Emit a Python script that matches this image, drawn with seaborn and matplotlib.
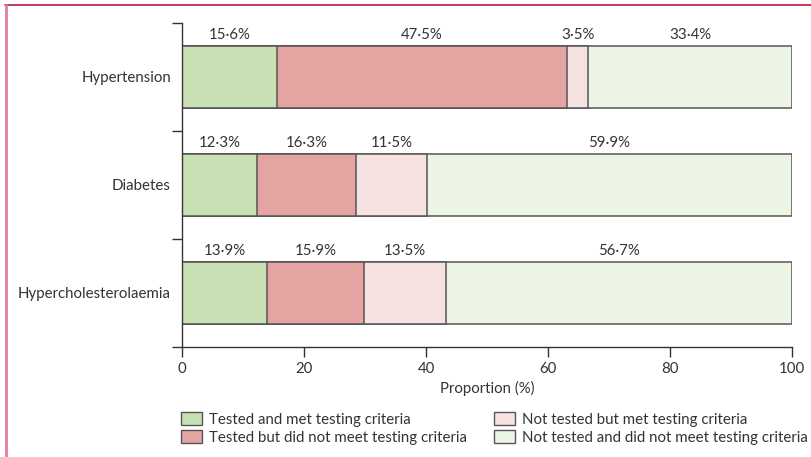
import pandas as pd
import seaborn as sns
import numpy as np
import matplotlib.pyplot as plt
from matplotlib.patches import Patch
from matplotlib.lines import Line2D

# values
conditions = ['Hypertension', 'Diabetes', 'Hypercholesterolaemia']
groups = ['Tested and met testing criteria',
          'Tested but did not meet testing criteria',
          'Not tested but met testing criteria',
          'Not tested and did not meet testing criteria']
tested_met = [15.6, 12.3, 13.9]
tested_not_met = [47.5, 16.3, 15.9]
not_tested_met = [3.5, 11.5, 13.5]
not_tested_not_met = [33.4, 59.9, 56.7]
colors = ['#c9e0b5', '#e3a4a2', '#f6e2e0', '#ecf4e4']

sns.set_style('white')
plt.rcParams['font.family'] = ['Lato', 'DejaVu Sans']
plt.rcParams['font.size'] = 10.8
plt.rcParams['text.color'] = '#333333'

df = pd.DataFrame({'condition': conditions,
                   groups[0]: tested_met,
                   groups[1]: tested_not_met,
                   groups[2]: not_tested_met,
                   groups[3]: not_tested_not_met})
cum = df[groups].cumsum(axis=1)
cum['condition'] = df['condition']

fig = plt.figure(figsize=(8.11, 4.57), dpi=100)
ax = fig.add_axes([0.2244, 0.2407, 0.7522, 0.709])

# stacked bars: draw cumulative totals from the longest down
for g, c in reversed(list(zip(groups, colors))):
    sns.barplot(data=cum, x=g, y='condition', order=conditions, color=c,
                width=0.58, edgecolor='#555555', linewidth=1.1,
                saturation=1, ax=ax)

# percentage labels above each segment
for i, cond in enumerate(conditions):
    left = 0
    for g in groups:
        v = df.loc[i, g]
        txt = f'{v:.1f}'.replace('.', '\u00b7') + '%'
        ax.text(left + v / 2, i - 0.32, txt, ha='center', va='bottom',
                fontsize=10.8, color='#333333')
        left += v

ax.set_xlim(0, 100)
ax.set_ylim(2.5, -0.5)
ax.set_xticks(np.arange(0, 101, 20))
ax.set_yticks(range(len(conditions)))
ax.set_yticklabels(conditions)
ax.set_yticks([-0.5, 0.5, 1.5, 2.5], minor=True)
ax.tick_params(axis='y', which='major', length=0, pad=8, labelcolor='#333333')
ax.tick_params(axis='y', which='minor', length=7, width=1, color='#333333', direction='out', left=True)
ax.tick_params(axis='x', length=7, width=1, color='#333333', direction='out',
               bottom=True, labelcolor='#333333', pad=4)
ax.set_xlabel('Proportion (%)', color='#333333', labelpad=3)
ax.set_ylabel('')
for s in ['top', 'right']:
    ax.spines[s].set_visible(False)
for s in ['left', 'bottom']:
    ax.spines[s].set_color('#333333')
    ax.spines[s].set_linewidth(1)

handles = [Patch(facecolor=c, edgecolor='#555555', linewidth=1) for c in colors]
fig.legend(handles, groups, ncol=2, loc='upper left',
           bbox_to_anchor=(0.2235, 0.098), frameon=False,
           handlelength=1.4, handleheight=0.9, handletextpad=0.45,
           columnspacing=1.8, labelspacing=0.25, borderaxespad=0,
           borderpad=0, fontsize=10.8)

# page frame lines
fig.add_artist(Line2D([0.0065, 1], [0.989, 0.989], color='#b5173f', lw=1.2,
                      transform=fig.transFigure))
fig.add_artist(Line2D([0.0075, 0.0075], [0, 0.989], color='#e08099', lw=2,
                      transform=fig.transFigure))

fig.savefig('out.png', dpi=100)
